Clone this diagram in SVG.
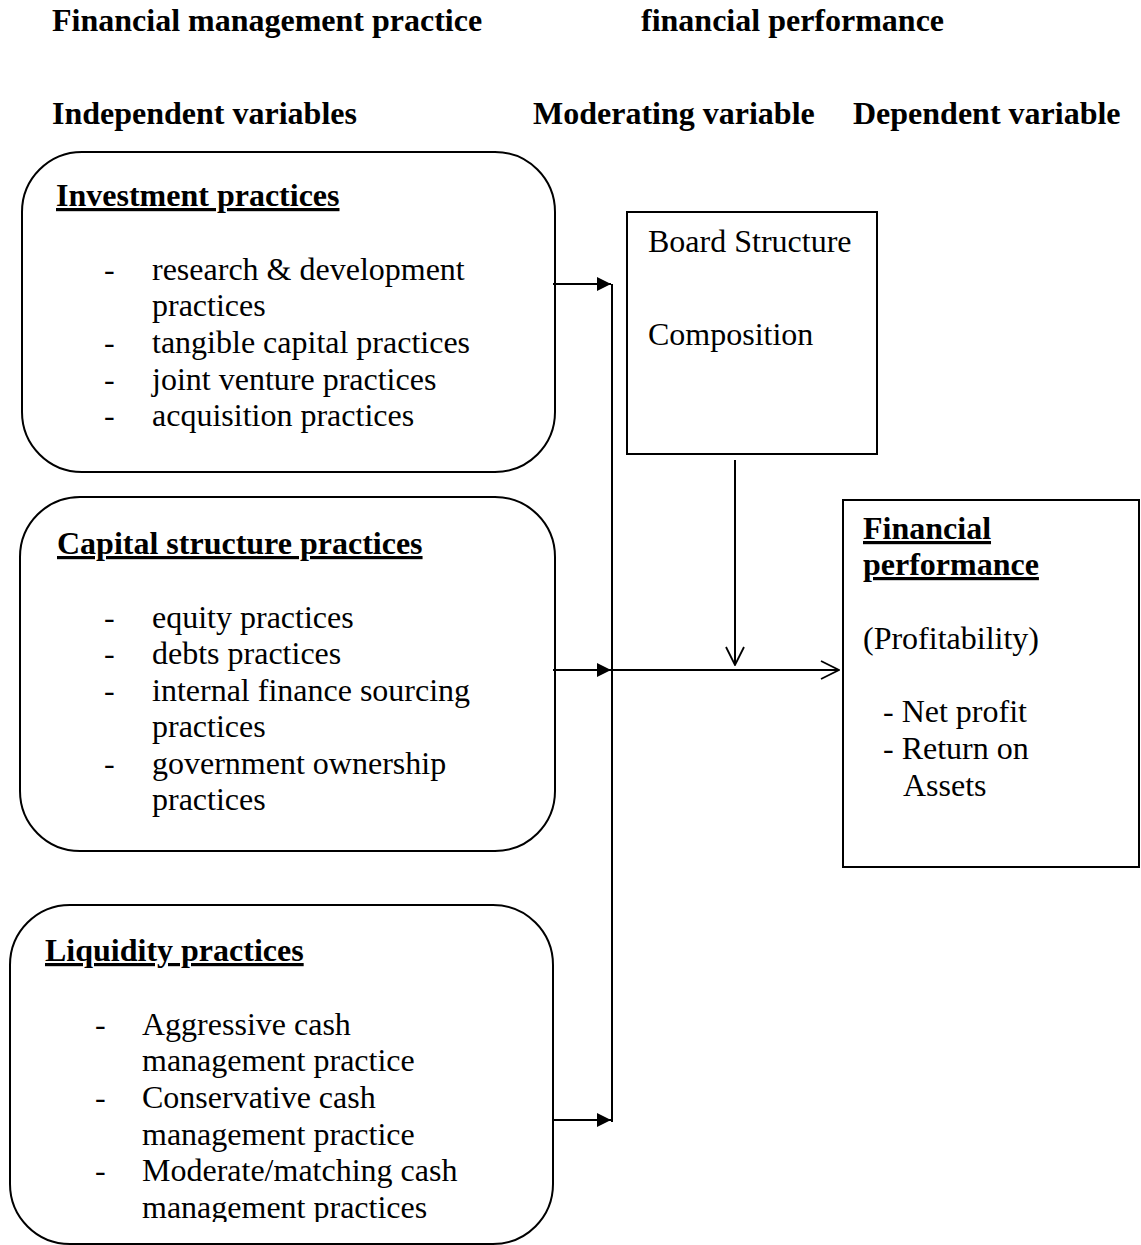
<svg xmlns="http://www.w3.org/2000/svg" width="1141" height="1245" viewBox="0 0 1141 1245">
<style>
text{font-family:"Liberation Serif","Times New Roman",serif;font-size:32px;fill:#000}
.b{font-weight:bold}
.u{text-decoration:underline}
.box{fill:#fff;stroke:#000;stroke-width:2}
.ln{stroke:#000;stroke-width:2;fill:none}
</style>
<defs>
<marker id="fa" viewBox="0 0 14 14" refX="14" refY="7" markerWidth="14" markerHeight="14" markerUnits="userSpaceOnUse" orient="auto"><path d="M0,0 L14,7 L0,14 z" fill="#000"/></marker>
<marker id="oa" viewBox="0 0 20 20" refX="19" refY="10" markerWidth="20" markerHeight="20" markerUnits="userSpaceOnUse" orient="auto"><path d="M1,1 L19,10 L1,19" fill="none" stroke="#000" stroke-width="1.8"/></marker>
<clipPath id="c3"><rect x="0" y="900" width="600" height="322"/></clipPath>
</defs>
<g id="headers">
<text class="b" x="52" y="31">Financial management practice</text>
<text class="b" x="641" y="31">financial performance</text>
<text class="b" x="52" y="124">Independent variables</text>
<text class="b" x="533" y="124">Moderating variable</text>
<text class="b" x="853" y="124">Dependent variable</text>
</g>
<g id="investment">
<rect class="box" x="22" y="152" width="533" height="320" rx="60" ry="60"/>
<text class="b u" x="56" y="206">Investment practices</text>
<text x="104" y="280">-</text><text x="152" y="280">research &amp; development</text>
<text x="152" y="316">practices</text>
<text x="104" y="353">-</text><text x="152" y="353">tangible capital practices</text>
<text x="104" y="390">-</text><text x="152" y="390">joint venture practices</text>
<text x="104" y="426">-</text><text x="152" y="426">acquisition practices</text>
</g>
<g id="capital">
<rect class="box" x="20" y="497" width="535" height="354" rx="60" ry="60"/>
<text class="b u" x="57" y="554">Capital structure practices</text>
<text x="104" y="628">-</text><text x="152" y="628">equity practices</text>
<text x="104" y="664">-</text><text x="152" y="664">debts practices</text>
<text x="104" y="701">-</text><text x="152" y="701">internal finance sourcing</text>
<text x="152" y="737">practices</text>
<text x="104" y="774">-</text><text x="152" y="774">government ownership</text>
<text x="152" y="810">practices</text>
</g>
<g id="liquidity">
<rect class="box" x="10" y="905" width="543" height="339" rx="60" ry="60"/>
<text class="b u" x="45" y="961">Liquidity practices</text>
<text x="95" y="1035">-</text><text x="142" y="1035">Aggressive cash</text>
<text x="142" y="1071">management practice</text>
<text x="95" y="1108">-</text><text x="142" y="1108">Conservative cash</text>
<text x="142" y="1145">management practice</text>
<text x="95" y="1181">-</text><text x="142" y="1181">Moderate/matching cash</text>
<text x="142" y="1218" clip-path="url(#c3)">management practices</text>
</g>
<g id="board">
<rect class="box" x="627" y="212" width="250" height="242"/>
<text x="648" y="252">Board Structure</text>
<text x="648" y="345">Composition</text>
</g>
<g id="performance">
<rect class="box" x="843" y="500" width="296" height="367"/>
<text class="b u" x="863" y="539">Financial</text>
<text class="b u" x="863" y="575">performance</text>
<text x="863" y="649">(Profitability)</text>
<text x="883" y="722">- Net profit</text>
<text x="883" y="759">- Return on</text>
<text x="903" y="796">Assets</text>
</g>
<g id="connectors">
<line class="ln" x1="553" y1="284" x2="611" y2="284" marker-end="url(#fa)"/>
<line class="ln" x1="553" y1="670" x2="611" y2="670" marker-end="url(#fa)"/>
<line class="ln" x1="553" y1="1120" x2="611" y2="1120" marker-end="url(#fa)"/>
<line class="ln" x1="612" y1="284" x2="612" y2="1122"/>
<line class="ln" x1="612" y1="670" x2="839" y2="670" marker-end="url(#oa)"/>
<line class="ln" x1="735" y1="460" x2="735" y2="665" marker-end="url(#oa)"/>
</g>
</svg>
